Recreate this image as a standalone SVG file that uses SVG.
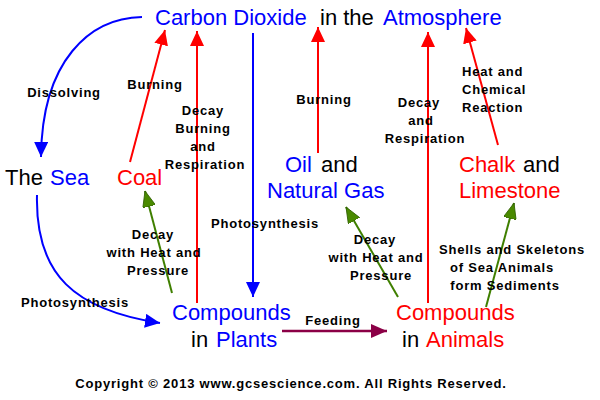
<svg xmlns="http://www.w3.org/2000/svg" width="600" height="400" viewBox="0 0 600 400">
<style>
.big{font-family:"Liberation Sans",Arial,sans-serif;font-size:22px;fill:#000}
.b{fill:#0000ff}.r{fill:#ff0000}
.lbl{font-family:"Liberation Sans",Arial,sans-serif;font-size:13px;font-weight:bold;letter-spacing:0.8px;fill:#000;text-anchor:middle}
.red{stroke:#ff0000;stroke-width:2;fill:none}
.blue{stroke:#0000ff;stroke-width:2;fill:none}
.green{stroke:#3f7f00;stroke-width:2;fill:none}
.maroon{stroke:#8b0046;stroke-width:2.5;fill:none}
</style>
<defs>
<marker id="ar" markerUnits="userSpaceOnUse" markerWidth="16" markerHeight="14" refX="15" refY="7" orient="auto"><path d="M0,0 L15,7 L0,14 z" fill="#ff0000"/></marker>
<marker id="ab" markerUnits="userSpaceOnUse" markerWidth="16" markerHeight="14" refX="15" refY="7" orient="auto"><path d="M0,0 L15,7 L0,14 z" fill="#0000ff"/></marker>
<marker id="ag" markerUnits="userSpaceOnUse" markerWidth="17" markerHeight="13" refX="16" refY="6.5" orient="auto"><path d="M0,0 L16,6.5 L0,13 z" fill="#4a8a00" stroke="#2f5f00" stroke-width="0.8"/></marker>
<marker id="am" markerUnits="userSpaceOnUse" markerWidth="17" markerHeight="14" refX="16" refY="7" orient="auto"><path d="M0,0 L16,7 L0,14 z" fill="#8b0046"/></marker>
</defs>

<g id="connectors">
<path class="blue" d="M142,17 C90,18 42,60 41,157" marker-end="url(#ab)"/>
<path class="blue" d="M37,195 C35,275 75,310 160,323" marker-end="url(#ab)"/>
<line class="red" x1="130" y1="162" x2="165" y2="30" marker-end="url(#ar)"/>
<line class="red" x1="197" y1="303" x2="197" y2="31" marker-end="url(#ar)"/>
<line class="blue" x1="253" y1="33" x2="253" y2="297" marker-end="url(#ab)"/>
<line class="red" x1="318" y1="153" x2="318" y2="27" marker-end="url(#ar)"/>
<line class="red" x1="428" y1="303" x2="428" y2="32" marker-end="url(#ar)"/>
<line class="red" x1="498" y1="145" x2="466" y2="28" marker-end="url(#ar)"/>
<line class="green" x1="172" y1="293" x2="145" y2="191" marker-end="url(#ag)"/>
<line class="green" x1="398" y1="297" x2="346" y2="207" marker-end="url(#ag)"/>
<line class="green" x1="486" y1="307" x2="514" y2="203" marker-end="url(#ag)"/>
<line class="maroon" x1="282" y1="331" x2="387" y2="331" marker-end="url(#am)"/>
</g>

<g id="atmosphere">
<text class="big" y="25"><tspan class="b" x="155">Carbon Dioxide</tspan><tspan x="320">in the</tspan><tspan class="b" x="383">Atmosphere</tspan></text>
</g>
<g id="sea">
<text class="big" y="185"><tspan x="5">The</tspan><tspan class="b" x="50">Sea</tspan></text>
</g>
<g id="coal">
<text class="big r" x="117" y="185">Coal</text>
</g>
<g id="oil">
<text class="big" y="172"><tspan class="b" x="285">Oil</tspan><tspan x="321">and</tspan></text>
<text class="big b" x="267" y="198">Natural Gas</text>
</g>
<g id="chalk">
<text class="big" y="172"><tspan class="r" x="459">Chalk</tspan><tspan x="523">and</tspan></text>
<text class="big r" x="459" y="198">Limestone</text>
</g>
<g id="plants">
<text class="big b" x="172" y="320">Compounds</text>
<text class="big" y="347"><tspan x="191">in</tspan><tspan class="b" x="216">Plants</tspan></text>
</g>
<g id="animals">
<text class="big r" x="396" y="320">Compounds</text>
<text class="big" y="347"><tspan x="402">in</tspan><tspan class="r" x="426">Animals</tspan></text>
</g>

<g id="labels">
<text class="lbl" x="64" y="97">Dissolving</text>
<text class="lbl" x="155" y="89">Burning</text>
<text class="lbl" x="203" y="115">Decay</text>
<text class="lbl" x="203" y="133">Burning</text>
<text class="lbl" x="203" y="151">and</text>
<text class="lbl" x="205" y="169">Respiration</text>
<text class="lbl" x="324" y="104">Burning</text>
<text class="lbl" x="419" y="107">Decay</text>
<text class="lbl" x="421" y="125">and</text>
<text class="lbl" x="425" y="143">Respiration</text>
<text class="lbl" x="462" y="76" style="text-anchor:start">Heat and</text>
<text class="lbl" x="462" y="94" style="text-anchor:start">Chemical</text>
<text class="lbl" x="462" y="112" style="text-anchor:start">Reaction</text>
<text class="lbl" x="265" y="228">Photosynthesis</text>
<text class="lbl" x="153" y="239">Decay</text>
<text class="lbl" x="154" y="257">with Heat and</text>
<text class="lbl" x="158" y="275">Pressure</text>
<text class="lbl" x="75" y="307">Photosynthesis</text>
<text class="lbl" x="375" y="244">Decay</text>
<text class="lbl" x="376" y="262">with Heat and</text>
<text class="lbl" x="381" y="280">Pressure</text>
<text class="lbl" x="512" y="254">Shells and Skeletons</text>
<text class="lbl" x="502" y="272">of Sea Animals</text>
<text class="lbl" x="505" y="290">form Sediments</text>
<text class="lbl" x="333" y="325">Feeding</text>
<text class="lbl" x="291" y="388">Copyright © 2013 www.gcsescience.com. All Rights Reserved.</text>
</g>
</svg>
